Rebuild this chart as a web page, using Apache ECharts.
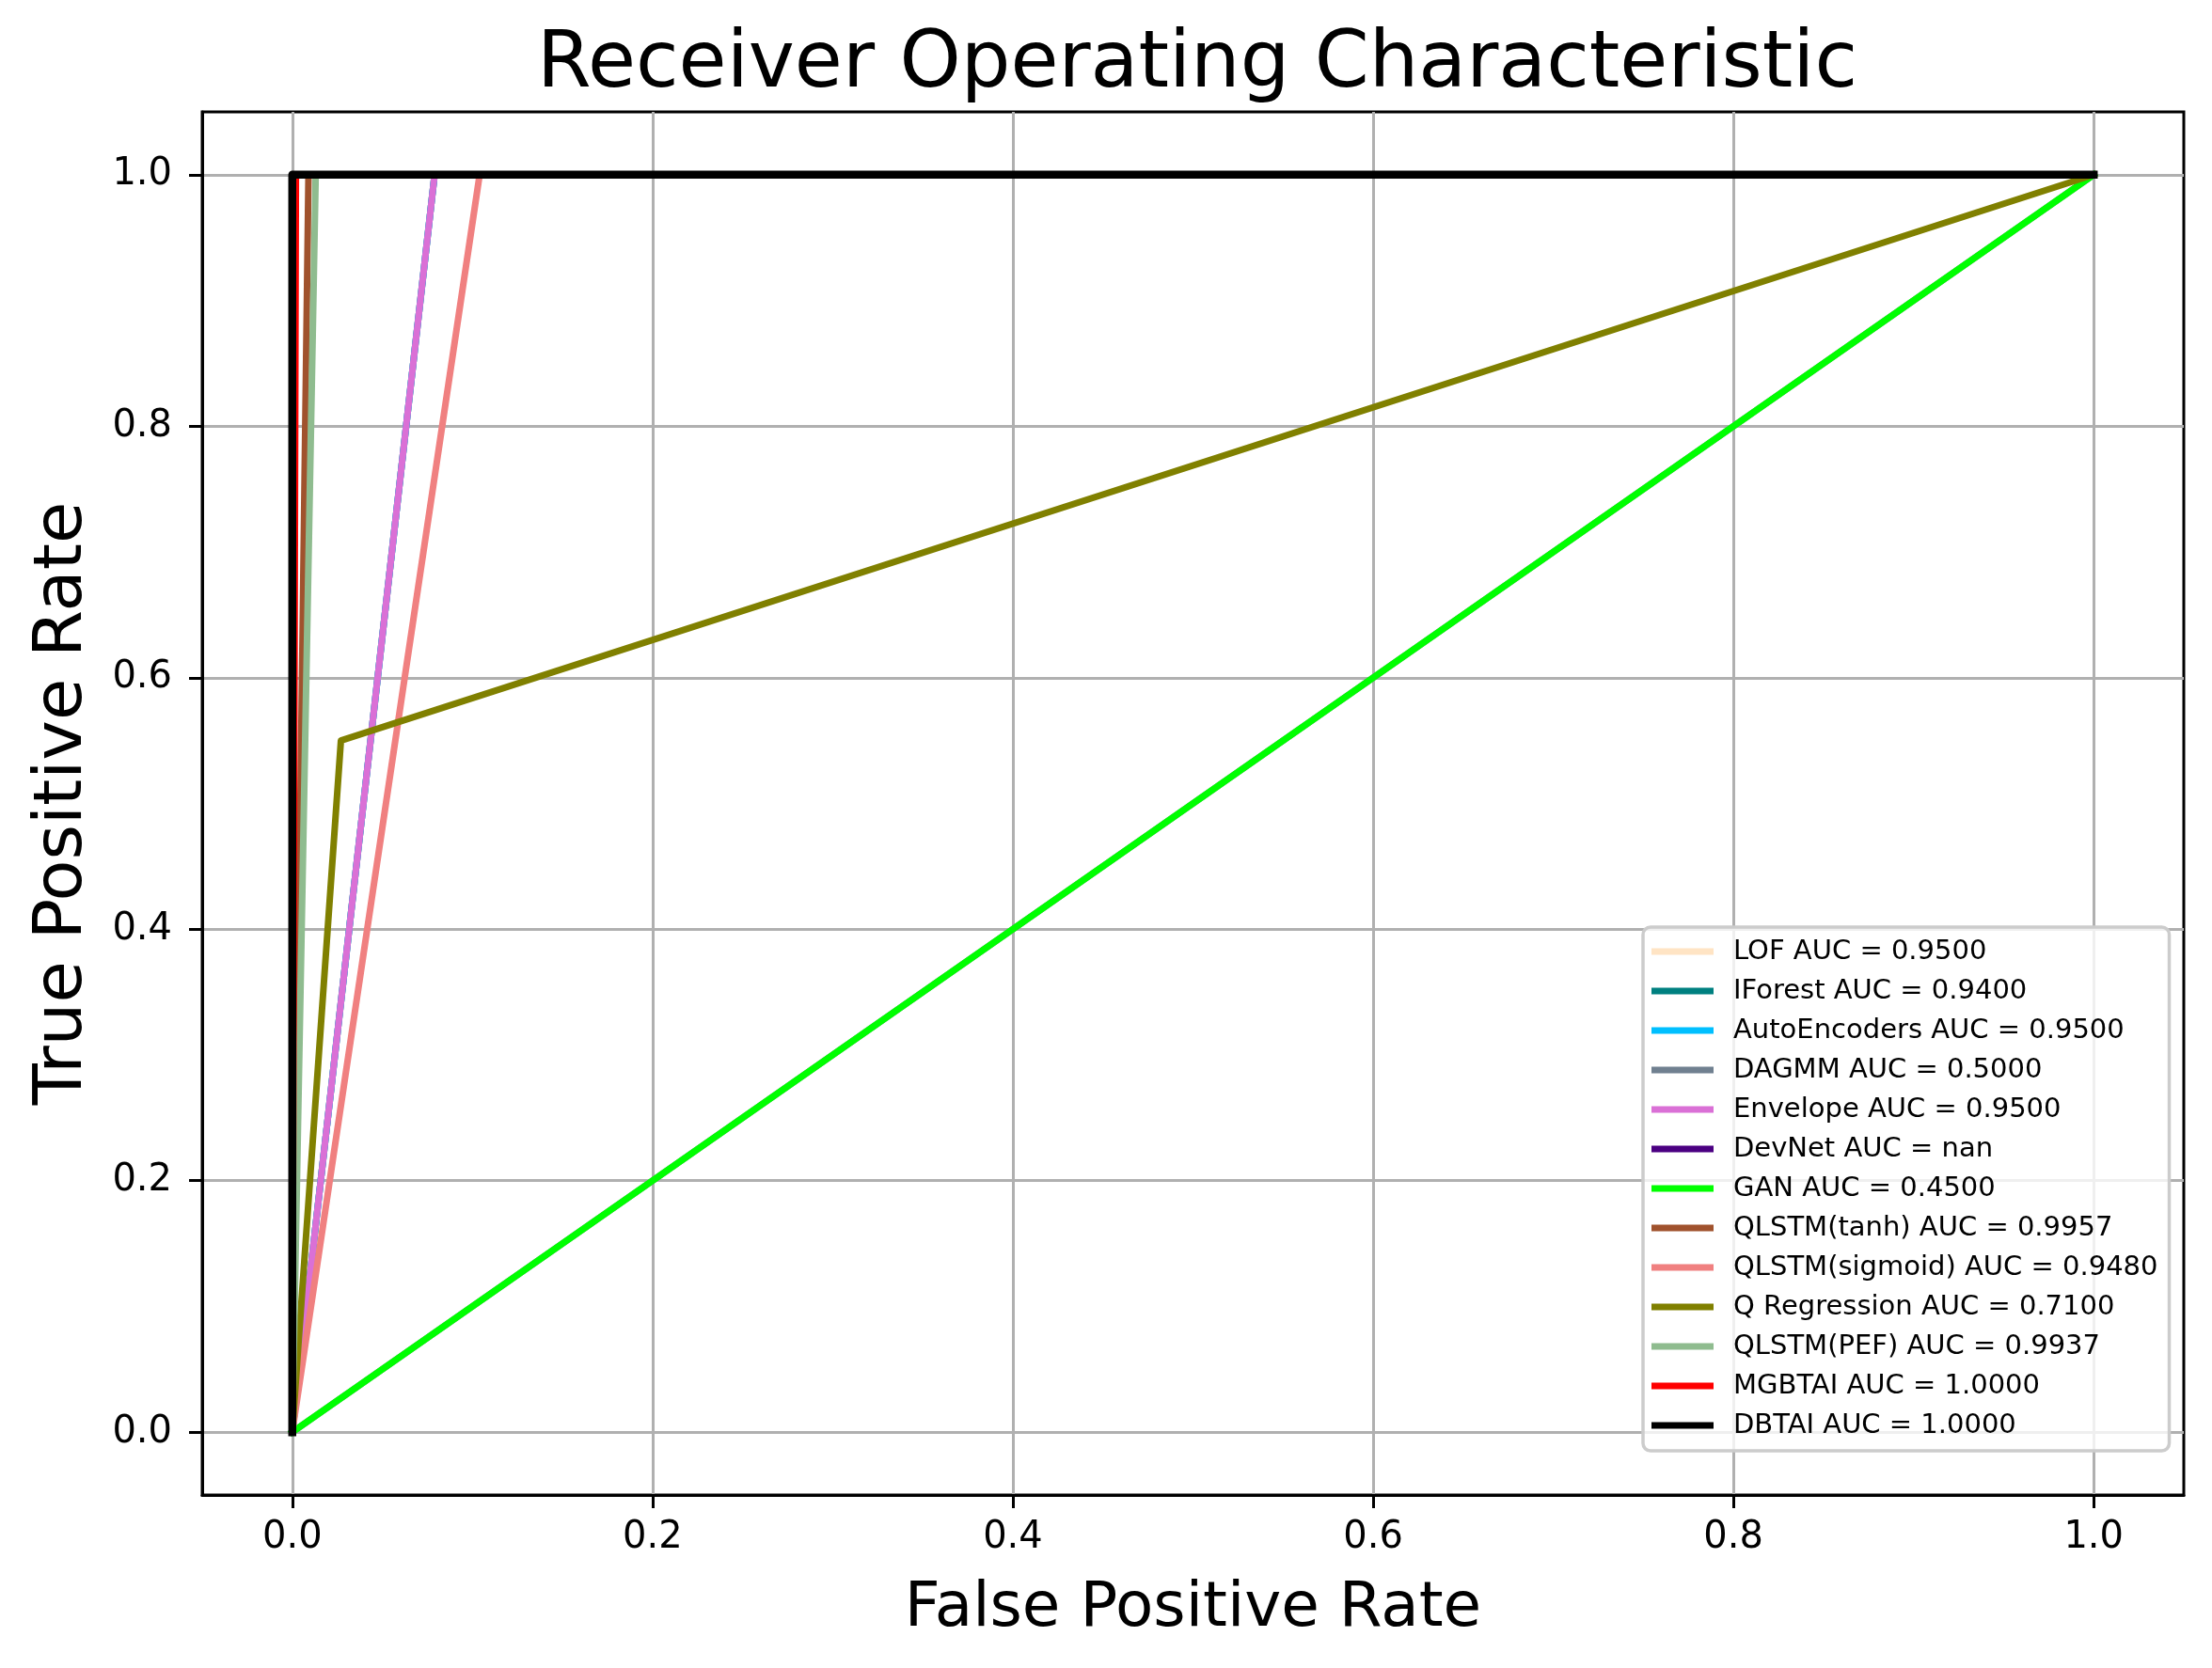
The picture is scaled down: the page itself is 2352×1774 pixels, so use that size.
<!DOCTYPE html>
<html>
<head>
<meta charset="utf-8">
<title>Receiver Operating Characteristic</title>
<script src="https://cdn.jsdelivr.net/npm/echarts@6/dist/echarts.min.js"></script>
<style>
html, body { margin: 0; padding: 0; background: #fff; }
#main { width: 2352px; height: 1774px; }
</style>
</head>
<body>
<div id="main"></div>
<script>
// 模型名称与颜色
var modelNames = ['LOF AUC = 0.9500', 'IForest AUC = 0.9400', 'AutoEncoders AUC = 0.9500',
	'DAGMM AUC = 0.5000', 'Envelope AUC = 0.9500', 'DevNet AUC = nan', 'GAN AUC = 0.4500',
	'QLSTM(tanh) AUC = 0.9957', 'QLSTM(sigmoid) AUC = 0.9480', 'Q Regression AUC = 0.7100',
	'QLSTM(PEF) AUC = 0.9937', 'MGBTAI AUC = 1.0000', 'DBTAI AUC = 1.0000'];

var modelColors = ['#ffe4c4', '#008080', '#00bfff', '#708090', '#da70d6', '#4b0082', '#00ff00',
	'#a0522d', '#f08080', '#808000', '#8fbc8f', '#ff0000', '#000000'];

// ROC 曲线点 [fpr, tpr]
var lofRoc = [[0, 0], [0.079, 1], [1, 1]];
var iforestRoc = [[0, 0], [0.079, 1], [1, 1]];
var autoEncRoc = [[0, 0], [0.079, 1], [1, 1]];
var dagmmRoc = [[0, 0], [1, 1]];
var envelopeRoc = [[0, 0], [0.079, 1], [1, 1]];
var devnetRoc = [];
var ganRoc = [[0, 0], [1, 1]];
var qlstmTanhRoc = [[0, 0], [0.009, 1], [1, 1]];
var qlstmSigmoidRoc = [[0, 0], [0.104, 1], [1, 1]];
var qRegressionRoc = [[0, 0], [0.027, 0.55], [1, 1]];
var qlstmPefRoc = [[0, 0], [0.013, 1], [1, 1]];
var mgbtaiRoc = [[0, 0], [0.002, 1], [1, 1]];
var dbtaiRoc = [[0, 0], [0, 1], [1, 1]];

var rocData = [lofRoc, iforestRoc, autoEncRoc, dagmmRoc, envelopeRoc, devnetRoc, ganRoc,
	qlstmTanhRoc, qlstmSigmoidRoc, qRegressionRoc, qlstmPefRoc, mgbtaiRoc, dbtaiRoc];

// 刻度值
var xTicks = [0, 0.2, 0.4, 0.6, 0.8, 1.0];
var yTicks = [0, 0.2, 0.4, 0.6, 0.8, 1.0];

var fontName = 'DejaVu Sans';

var seriesList = [];
for (var i = 0; i < modelNames.length; i++) {
	// 最后一条（DBTAI）略粗
	var w = (i == modelNames.length - 1) ? 8.5 : 7;
	seriesList.push({
		name: modelNames[i],
		type: 'line',
		data: rocData[i],
		symbol: 'none',
		color: modelColors[i],
		lineStyle: {
			color: modelColors[i],
			width: w,
			cap: 'square',
			join: 'round'
		},
		animation: false
	});
}

function axisOf(ticks, name, nameSize, nameGap, labelMargin) {
	return {
		type: 'value',
		min: -0.05,
		max: 1.05,
		name: name,
		nameLocation: 'middle',
		nameGap: nameGap,
		nameTextStyle: { fontFamily: fontName, fontSize: nameSize, color: '#000' },
		axisLine: { show: true, onZero: false, lineStyle: { color: '#000', width: 3 } },
		axisTick: { show: true, customValues: ticks, length: 14, lineStyle: { color: '#000', width: 3 } },
		axisLabel: {
			customValues: ticks,
			margin: labelMargin,
			fontFamily: fontName,
			fontSize: 40,
			color: '#000',
			formatter: function (v) { return v.toFixed(1); }
		},
		splitLine: { show: true, lineStyle: { color: '#b0b0b0', width: 3 } }
	};
}

var option = {
	backgroundColor: '#fff',
	animation: false,
	title: {
		text: 'Receiver Operating Characteristic',
		left: 1268,
		textAlign: 'center',
		top: 24,
		textStyle: { fontFamily: fontName, fontSize: 83, fontWeight: 'normal', color: '#000' }
	},
	grid: {
		left: 215,
		right: 30,
		top: 119,
		bottom: 184,
		show: true,
		borderColor: '#000',
		borderWidth: 3,
		backgroundColor: 'transparent'
	},
	xAxis: axisOf(xTicks, 'False Positive Rate', 66, 89, 26),
	yAxis: axisOf(yTicks, 'True Positive Rate', 72, 112, 32),
	legend: {
		orient: 'vertical',
		left: 1747,
		top: 986,
		icon: 'rect',
		itemWidth: 66,
		itemHeight: 7,
		itemGap: 12,
		padding: [11, 12, 12, 9],
		backgroundColor: 'rgba(255,255,255,0.8)',
		borderColor: '#cccccc',
		borderWidth: 3.5,
		borderRadius: 8,
		data: modelNames,
		textStyle: {
			fontFamily: fontName,
			fontSize: 29,
			lineHeight: 30,
			color: '#000',
			padding: [0, 0, 0, 16]
		}
	},
	series: seriesList
};

var rocChart = echarts.init(document.getElementById('main')); // 初始化 echarts 实例
rocChart.setOption(option);
</script>
</body>
</html>
